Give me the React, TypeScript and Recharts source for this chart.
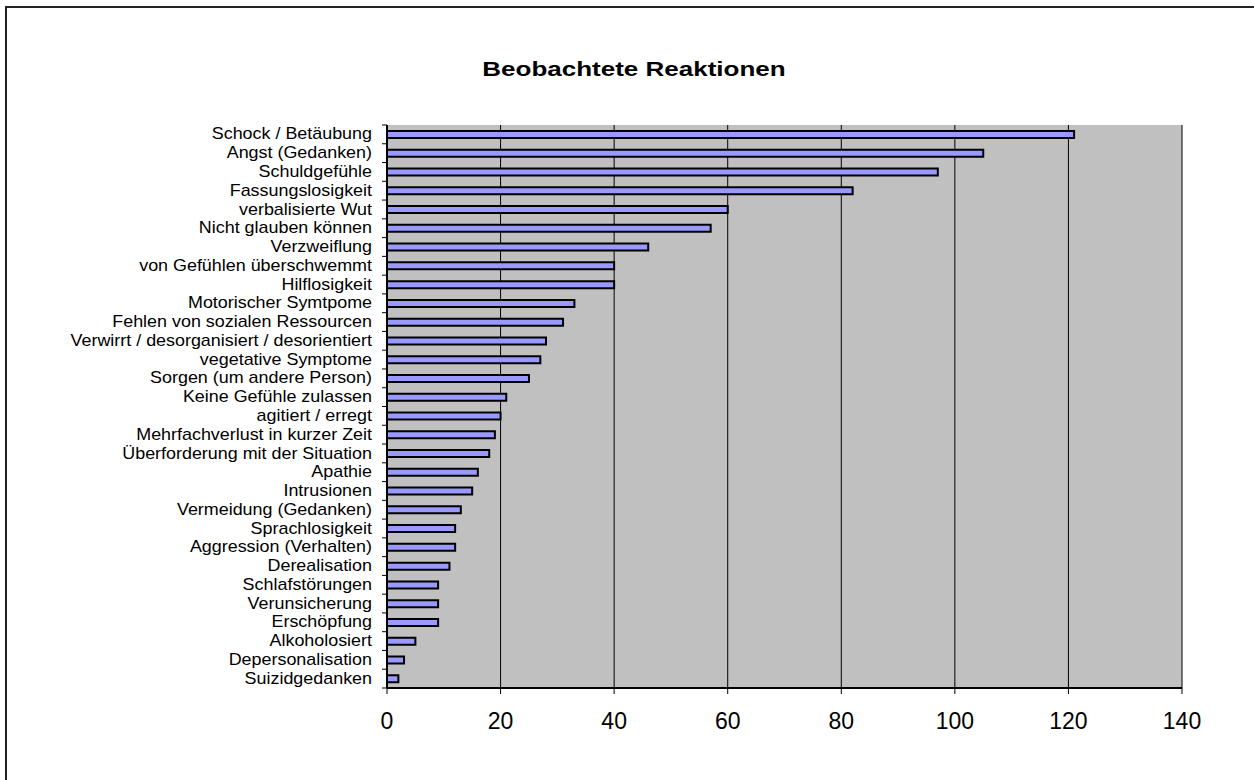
import { BarChart, Bar, XAxis, YAxis, CartesianGrid } from "recharts";

const labels = [
  "Schock / Betäubung",
  "Angst (Gedanken)",
  "Schuldgefühle",
  "Fassungslosigkeit",
  "verbalisierte Wut",
  "Nicht glauben können",
  "Verzweiflung",
  "von Gefühlen überschwemmt",
  "Hilflosigkeit",
  "Motorischer Symtpome",
  "Fehlen von sozialen Ressourcen",
  "Verwirrt / desorganisiert / desorientiert",
  "vegetative Symptome",
  "Sorgen (um andere Person)",
  "Keine Gefühle zulassen",
  "agitiert / erregt",
  "Mehrfachverlust in kurzer Zeit",
  "Überforderung mit der Situation",
  "Apathie",
  "Intrusionen",
  "Vermeidung (Gedanken)",
  "Sprachlosigkeit",
  "Aggression (Verhalten)",
  "Derealisation",
  "Schlafstörungen",
  "Verunsicherung",
  "Erschöpfung",
  "Alkoholosiert",
  "Depersonalisation",
  "Suizidgedanken",
];

const counts = [
  121, 105, 97, 82, 60, 57, 46, 40, 40, 33, 31, 28, 27, 25, 21, 20, 19, 18, 16,
  15, 13, 12, 12, 11, 9, 9, 9, 5, 3, 2,
];

const xTicks = [0, 20, 40, 60, 80, 100, 120, 140];

const data = labels.map((label, i) => ({ label, count: counts[i] }));

const FONT = "Arial, 'Liberation Sans', sans-serif";
const PLOT_TOP = 125;
const PLOT_BOTTOM = 688;
const BAND = (PLOT_BOTTOM - PLOT_TOP) / labels.length;

// category label (slightly widened text) plus tick marks on the band boundaries
function CategoryTick(props: any) {
  const { x, y, payload, index } = props;
  const axisX = x + 15;
  const last = index === labels.length - 1;
  return (
    <g>
      <line x1={axisX - 5} x2={axisX} y1={y - BAND / 2} y2={y - BAND / 2} stroke="#000" />
      {last && (
        <line x1={axisX - 5} x2={axisX} y1={y + BAND / 2} y2={y + BAND / 2} stroke="#000" />
      )}
      <text
        transform={`translate(${x},${y - 0.5}) scale(1.12,1)`}
        dy="0.35em"
        textAnchor="end"
        fontSize={16}
        fontFamily={FONT}
        fill="#000"
      >
        {payload.value}
      </text>
    </g>
  );
}

export default function App() {
  return (
    <div
      style={{
        position: "absolute",
        left: 0,
        top: 0,
        width: 1254,
        height: 780,
        background: "#fff",
        fontFamily: FONT,
        overflow: "hidden",
      }}
    >
      <div
        style={{
          position: "absolute",
          left: 5,
          top: 6,
          width: 1300,
          height: 800,
          borderLeft: "2px solid #222",
          borderTop: "2px solid #222",
        }}
      />
      <div
        style={{
          position: "absolute",
          left: 0,
          top: 58,
          width: 1268,
          textAlign: "center",
          fontSize: 20,
          fontWeight: "bold",
          color: "#000",
          transform: "scaleX(1.3)",
          transformOrigin: "634px 0",
        }}
      >
        Beobachtete Reaktionen
      </div>
      <div style={{ position: "absolute", left: 0, top: 0 }}>
        <BarChart
          width={1254}
          height={780}
          data={data}
          layout="vertical"
          margin={{ top: PLOT_TOP, right: 72, bottom: 780 - PLOT_BOTTOM - 60, left: 0 }}
          barCategoryGap={0}
        >
          <CartesianGrid
            horizontal={false}
            stroke="#000"
            strokeWidth={1}
            fill="#c0c0c0"
            fillOpacity={1}
          />
          <XAxis
            type="number"
            domain={[0, 140]}
            ticks={xTicks}
            height={60}
            tickSize={6}
            tickMargin={19}
            axisLine={{ stroke: "#000", strokeWidth: 2 }}
            tickLine={{ stroke: "#000" }}
            tick={{ fontSize: 23, fill: "#000", fontFamily: FONT }}
          />
          <XAxis
            xAxisId="frame"
            orientation="top"
            type="number"
            domain={[0, 140]}
            height={0}
            tick={false}
            tickLine={false}
            axisLine={{ stroke: "#808080", strokeWidth: 2 }}
          />
          <YAxis
            type="category"
            dataKey="label"
            width={387}
            interval={0}
            tickLine={false}
            tickMargin={0}
            tickSize={15}
            axisLine={{ stroke: "#000", strokeWidth: 2 }}
            tick={<CategoryTick />}
          />
          <YAxis
            yAxisId="frame"
            orientation="right"
            type="category"
            dataKey="label"
            width={0}
            tick={false}
            tickLine={false}
            axisLine={{ stroke: "#808080", strokeWidth: 2 }}
          />
          <Bar
            dataKey="count"
            fill="#9999ff"
            stroke="#000"
            strokeWidth={2}
            barSize={7}
            isAnimationActive={false}
          />
        </BarChart>
      </div>
    </div>
  );
}
